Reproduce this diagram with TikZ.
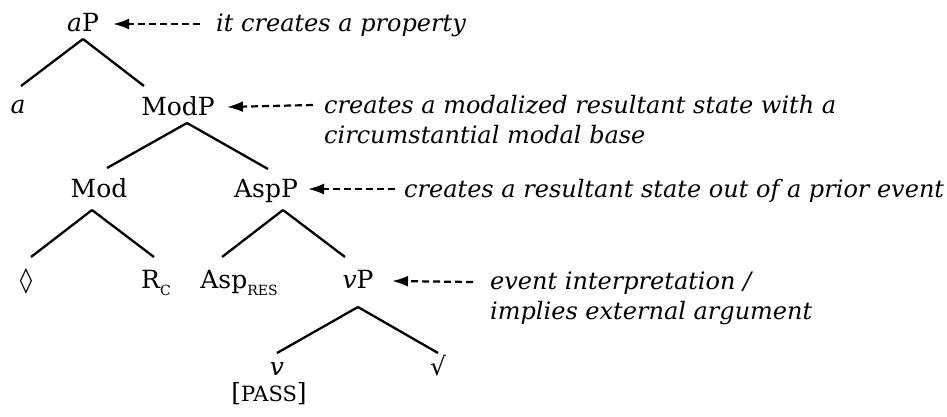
\documentclass[tikz,border=0pt]{standalone}
\usepackage{fontspec}
\setmainfont{DejaVu Serif}
\newfontfamily\symfont{DejaVu Sans}
\usetikzlibrary{arrows.meta,calc}
\begin{document}
\begin{tikzpicture}[x=1pt,y=-1pt,
  tn/.style={anchor=base,inner sep=0pt,font=\fontsize{25}{30}\selectfont},
  ann/.style={anchor=base west,inner sep=0pt,font=\fontsize{24}{30}\selectfont\itshape},
  br/.style={line width=2.3pt},
  arr/.style={line width=2.2pt,dash pattern=on 7pt off 4pt,-{Latex[length=16pt,width=11pt]}}]
\useasboundingbox (0,0) rectangle (947,416);
% tree nodes
\node[tn] (aP) at (83,31) {\textit{a}P};
\node[tn] (a) at (18,113) {\textit{a}};
\node[tn] (ModP) at (178,115) {ModP};
\node[tn] (Mod) at (99,197) {Mod};
\node[tn] (AspP) at (266,197) {AspP};
\node[tn] (dia) at (26,288) {{\symfont ◊}};
\node[tn] (Rc) at (156,288) {R\raisebox{-7pt}{\fontsize{14}{14}\selectfont C}};
\node[tn] (AspRes) at (239,288) {Asp\raisebox{-7pt}{\fontsize{14}{14}\selectfont RES}};
\node[tn] (vP) at (358,288) {\textit{v}P};
\node[tn] (v) at (277,375) {\textit{v}};
\node[tn] (pass) at (269,401) {[{\fontsize{21}{21}\selectfont PASS}]};
\node[tn] (root) at (438,375) {{\symfont √}};
% annotations
\node[ann] (ann1) at (216,31) {it creates a property};
\node[ann] (ann2) at (324,113) {creates a modalized resultant state with a};
\node[ann] (ann2b) at (324,143) {circumstantial modal base};
\node[ann] (ann3) at (404,197) {creates a resultant state out of a prior event};
\node[ann] (ann4) at (490,289) {event interpretation /};
\node[ann] (ann4b) at (490,319) {implies external argument};
% branches
\draw[br] ($(aP.base)+(0,8)$) -- ($(a.base)+(3,-27)$);
\draw[br] ($(aP.base)+(0,8)$) -- ($(ModP.base)+(-34,-29)$);
\draw[br] ($(ModP.base)+(9,8)$) -- ($(Mod.base)+(8,-29)$);
\draw[br] ($(ModP.base)+(9,8)$) -- ($(AspP.base)+(2,-28)$);
\draw[br] ($(Mod.base)+(-7,13)$) -- ($(dia.base)+(5,-31)$);
\draw[br] ($(Mod.base)+(-7,13)$) -- ($(Rc.base)+(-2,-31)$);
\draw[br] ($(AspP.base)+(17,13)$) -- ($(AspRes.base)+(-17,-31)$);
\draw[br] ($(AspP.base)+(17,13)$) -- ($(vP.base)+(-13,-31)$);
\draw[br] ($(vP.base)+(0,19)$) -- ($(v.base)+(0,-22)$);
\draw[br] ($(vP.base)+(0,19)$) -- ($(root.base)+(0,-22)$);
% arrows
\draw[arr] ($(ann1.base west)+(-16,-7)$) -- ($(aP.base)+(30,-7)$);
\draw[arr] ($(ann2.base west)+(-11,-8)$) -- ($(ModP.base)+(49,-8)$);
\draw[arr] ($(ann3.base west)+(-9,-8)$) -- ($(AspP.base)+(42,-8)$);
\draw[arr] ($(ann4.base west)+(-17,-7)$) -- ($(vP.base)+(34,-7)$);
\end{tikzpicture}
\end{document}
